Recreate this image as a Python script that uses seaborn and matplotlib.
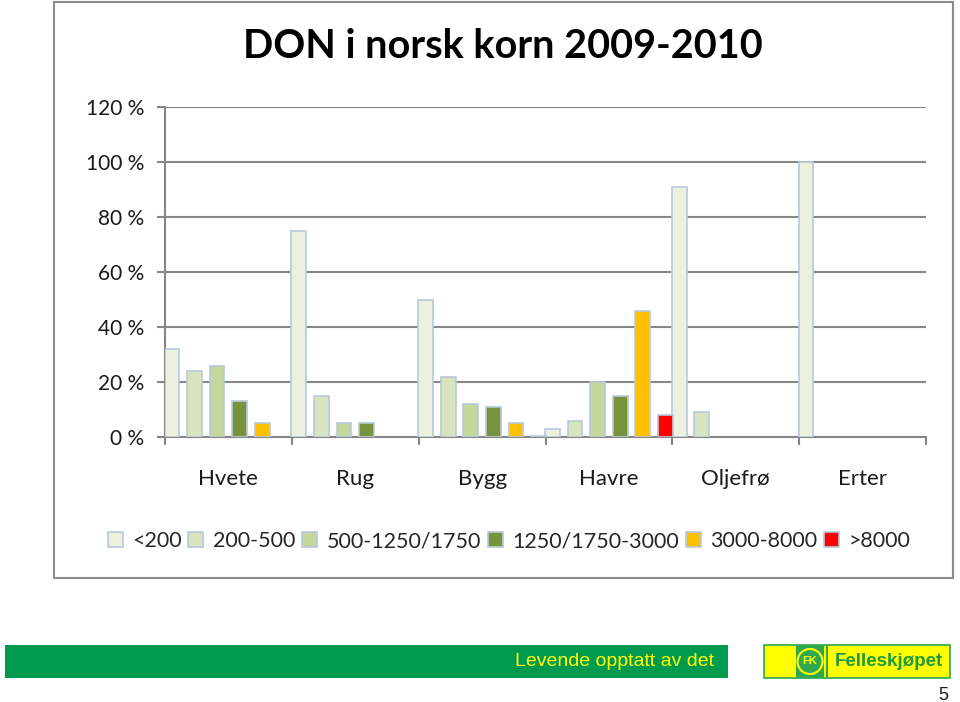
import matplotlib
matplotlib.use("Agg")
import matplotlib.pyplot as plt
import matplotlib.patches as mpatches
from matplotlib.ticker import FuncFormatter, FixedLocator
import numpy as np
import pandas as pd
import seaborn as sns

# ---- data ----
categories = ["Hvete", "Rug", "Bygg", "Havre", "Oljefrø", "Erter"]
classes = ["<200", "200-500", "500-1250/1750", "1250/1750-3000", "3000-8000", ">8000"]
share_lt200 = [32, 75, 50, 3, 91, 100]
share_200_500 = [24, 15, 22, 6, 9, None]
share_500_1250 = [26, 5, 12, 20, None, None]
share_1250_3000 = [13, 5, 11, 15, None, None]
share_3000_8000 = [5, None, 5, 46, None, None]
share_gt8000 = [None, None, 0.5, 8, None, None]
y_ticks = [0, 20, 40, 60, 80, 100, 120]
title = "DON i norsk korn 2009-2010"

series = [share_lt200, share_200_500, share_500_1250, share_1250_3000, share_3000_8000, share_gt8000]
rows = []
for cls, vals in zip(classes, series):
    for cat, v in zip(categories, vals):
        rows.append({"Kornart": cat, "Klasse": cls, "Andel": np.nan if v is None else v})
df = pd.DataFrame(rows)

colors = ["#ebf1de", "#d7e4bd", "#c3d69b", "#77933c", "#ffc000", "#ff0000"]
palette = dict(zip(classes, colors))

sns.set_theme(style="white")
plt.rcParams["font.family"] = ["Lato", "DejaVu Sans"]

fig = plt.figure(figsize=(9.6, 7.02), dpi=100)
ax = fig.add_axes([165 / 960, 1 - 437 / 702, (926 - 165) / 960, (437 - 107) / 702])

sns.barplot(data=df, x="Kornart", y="Andel", hue="Klasse", order=categories,
            hue_order=classes, palette=palette, saturation=1, width=1.07, gap=0.35,
            edgecolor="#b8c8dc", linewidth=1.2, ax=ax, legend=True, zorder=3)

ax.set_xlim(-0.5, len(categories) - 0.5)
ax.set_ylim(0, 120)
ax.set_yticks(y_ticks)
ax.yaxis.set_major_formatter(FuncFormatter(lambda v, p: f"{int(v)} %"))
ax.grid(axis="y", color="#868686", linewidth=1.5, zorder=0)
ax.set_axisbelow(True)
ax.set_xlabel("")
ax.set_ylabel("")

for s in ["top", "right"]:
    ax.spines[s].set_visible(False)
for s in ["left", "bottom"]:
    ax.spines[s].set_color("#868686")
    ax.spines[s].set_linewidth(1.5)

ax.tick_params(axis="y", which="major", left=True, length=6, width=1.5, color="#868686",
               labelsize=15, pad=9, labelcolor="#1a1a1a")
ax.tick_params(axis="x", which="major", length=0, labelsize=16, pad=23, labelcolor="#1a1a1a")
ax.xaxis.set_minor_locator(FixedLocator(np.arange(-0.5, len(categories), 1.0)))
ax.tick_params(axis="x", which="minor", bottom=True, length=6, width=1.5, color="#868686")

# legend
handles, labels = ax.get_legend_handles_labels()
ax.get_legend().remove()
fig.legend(handles, labels, loc="center", bbox_to_anchor=(509 / 960, 1 - 541 / 702),
           ncol=6, frameon=False, fontsize=15.5, handlelength=0.7, handleheight=0.7,
           handletextpad=0.45, columnspacing=0.3, borderaxespad=0)

# title
fig.text(503 / 960, 1 - 47 / 702, title, ha="center", va="center",
         fontsize=28.5, fontweight="bold", color="black")

# chart border
fig.patches.append(mpatches.Rectangle((54 / 960, 1 - 578 / 702), (953 - 54) / 960, (578 - 2) / 702,
                                      transform=fig.transFigure, fill=False,
                                      edgecolor="#8c8c8c", linewidth=1.5))

# footer
fig.patches.append(mpatches.Rectangle((5 / 960, 1 - 678 / 702), (728 - 5) / 960, 33 / 702,
                                      transform=fig.transFigure, facecolor="#009a4e",
                                      edgecolor="none"))
fig.text(714 / 960, 1 - 662 / 702, "Levende opptatt av det", ha="right", va="center",
         fontsize=14, color="#ffff00", family=["Liberation Sans", "DejaVu Sans"])
fig.patches.append(mpatches.Rectangle((764 / 960, 1 - 678 / 702), (950 - 764) / 960, 33 / 702,
                                      transform=fig.transFigure, facecolor="#ffff00",
                                      edgecolor="#2fa84f", linewidth=1.2))
fig.patches.append(mpatches.Rectangle((796 / 960, 1 - 678 / 702), 28 / 960, 33 / 702,
                                      transform=fig.transFigure, facecolor="#2fa84f",
                                      edgecolor="none"))
fig.patches.append(mpatches.Rectangle((826 / 960, 1 - 678 / 702), 1.5 / 960, 33 / 702,
                                      transform=fig.transFigure, facecolor="#2fa84f",
                                      edgecolor="none"))
fig.patches.append(mpatches.Ellipse((810 / 960, 1 - 661.5 / 702), 25 / 960, 25 / 702,
                                    transform=fig.transFigure, facecolor="#2fa84f",
                                    edgecolor="#ffff00", linewidth=1.5))
fig.text(810 / 960, 1 - 661.5 / 702, "FK", ha="center", va="center", fontsize=8,
         fontweight="bold", color="#ffff00", family=["Liberation Sans", "DejaVu Sans"])
fig.text(889 / 960, 1 - 662 / 702, "Felleskjøpet", ha="center", va="center",
         fontsize=13.5, fontweight="bold", color="#1f9a3c",
         family=["Liberation Sans Narrow", "Liberation Sans", "DejaVu Sans"])
fig.text(943 / 960, 1 - 695 / 702, "5", ha="center", va="center", fontsize=13,
         color="#1a1a1a", family=["Liberation Sans", "DejaVu Sans"])

fig.savefig("out.png", dpi=100)
